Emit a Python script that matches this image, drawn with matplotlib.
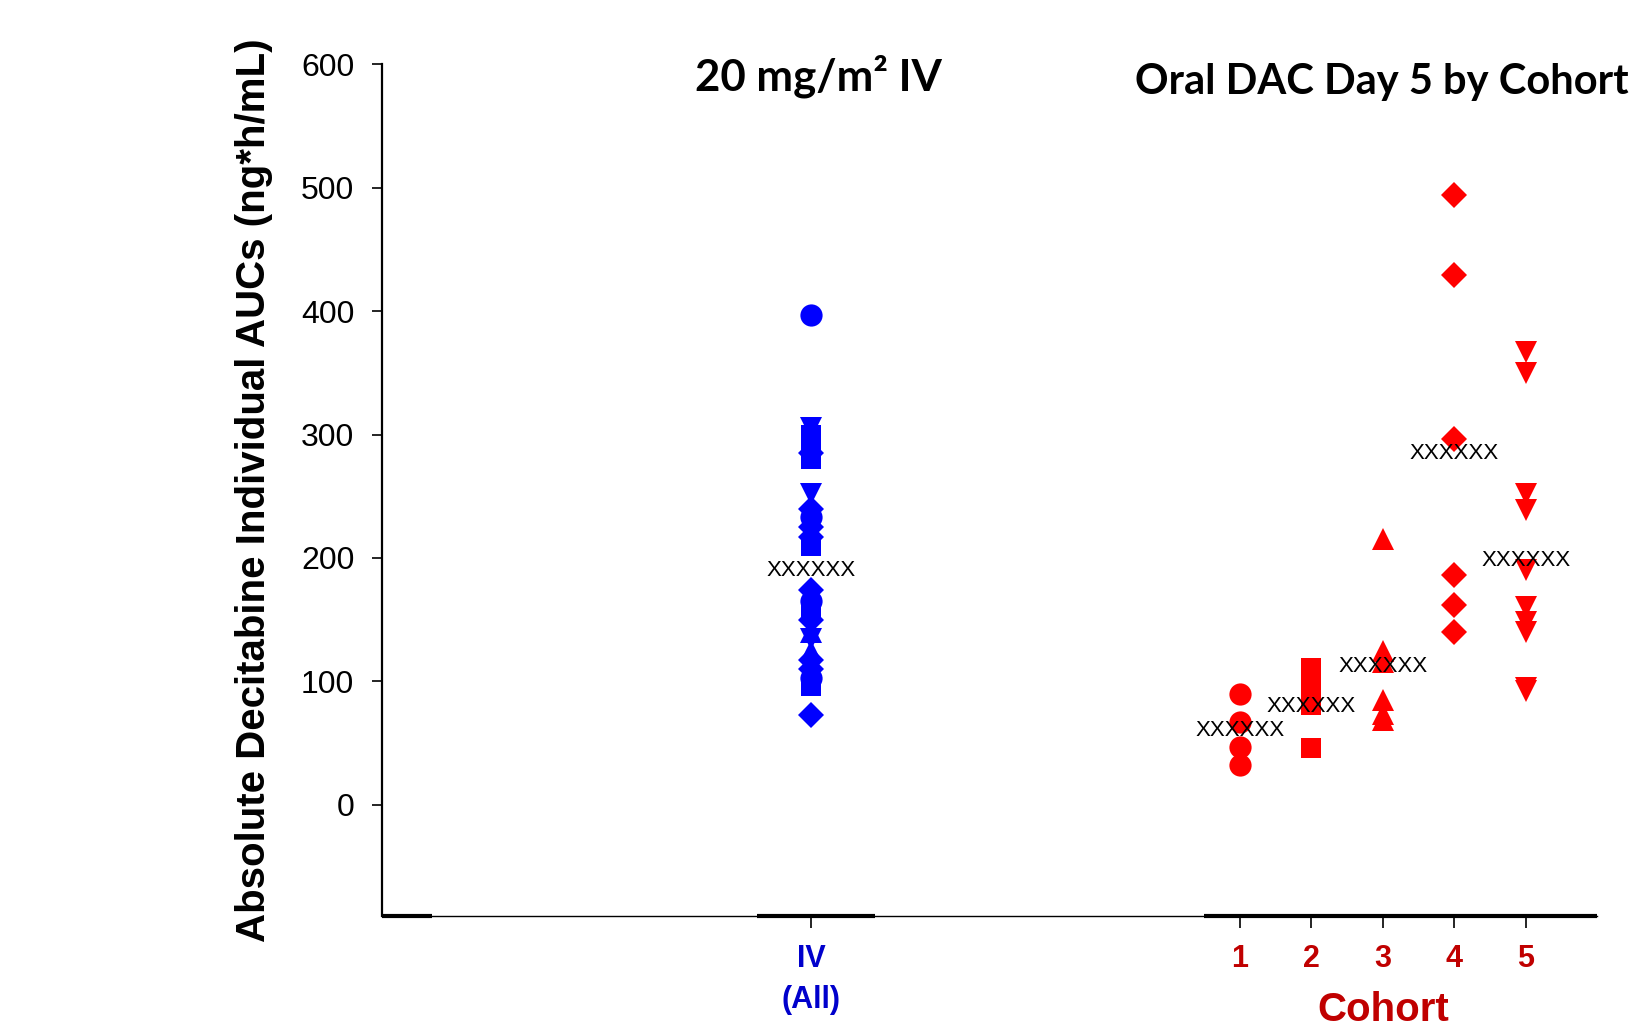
import matplotlib
matplotlib.use("Agg")
import matplotlib.pyplot as plt

plt.rcParams['font.family'] = ['Liberation Sans', 'DejaVu Sans']

# IV column (all patients), marker shape shows the cohort of each patient
iv_vals = [397, 305, 300, 292, 285, 280, 252, 240, 233, 225, 217, 210,
           174, 165, 158, 150, 140, 134, 125, 117, 110, 103, 96, 73]
iv_marks = ['o', 'v', 's', 's', 'D', 's', 'v', 'D', 'o', 'D', 'D', 's',
            'D', 'o', 's', 'D', '^', 'v', '^', 'D', 'D', 'o', 's', 'D']
iv_mean = 190

# oral DAC day 5, by cohort
cohorts = ['1', '2', '3', '4', '5']
cohort_marks = ['o', 's', '^', 'D', 'v']
cohort1 = [90, 67, 47, 32]
cohort2 = [111, 101, 91, 81, 46, 46]
cohort3 = [215, 125, 116, 85, 74, 69]
cohort4 = [494, 429, 296, 186, 162, 140]
cohort5 = [367, 350, 252, 239, 190, 160, 148, 140, 95, 92]
cohort_means = [60, 80, 112, 285, 198]

yticks = [0, 100, 200, 300, 400, 500, 600]

iv_pos = 0
cohort_pos = [6, 7, 8, 9, 10]
mark_size = {'o': 16, 's': 15, '^': 16, 'v': 16, 'D': 13}

fig = plt.figure(figsize=(16.4, 10.3), dpi=100)
ax = fig.add_axes([0.233, 0.1107, 0.741, 0.827])

# IV points
for m in sorted(set(iv_marks)):
    ys = [v for v, mk in zip(iv_vals, iv_marks) if mk == m]
    ax.plot([iv_pos] * len(ys), ys, linestyle='none', marker=m,
            markersize=mark_size[m], color='#0000FF', markeredgewidth=0)
ax.text(iv_pos, iv_mean, 'XXXXXX', ha='center', va='center', fontsize=16, zorder=5)

# oral cohorts
groups = [cohort1, cohort2, cohort3, cohort4, cohort5]
for x, vals, m, mean in zip(cohort_pos, groups, cohort_marks, cohort_means):
    ax.plot([x] * len(vals), vals, linestyle='none', marker=m,
            markersize=mark_size[m], color='#FF0000', markeredgewidth=0)
    ax.text(x, mean, 'XXXXXX', ha='center', va='center', fontsize=16, zorder=5)

ax.set_xlim(-6, 11)
ax.set_ylim(-90, 600)
ax.spines['top'].set_visible(False)
ax.spines['right'].set_visible(False)
ax.spines['left'].set_linewidth(1.6)
ax.spines['bottom'].set_linewidth(1.0)

# thicker pieces of the x axis line, as in the original
thick_spans = [(-6, -5.3), (-0.75, 0.9), (5.5, 11)]
for a, b in thick_spans:
    ax.hlines(-90, a, b, color='black', linewidth=3, clip_on=False, zorder=4)

ax.set_yticks(yticks)
ax.set_yticklabels([str(t) for t in yticks], fontsize=23)
ax.tick_params(axis='y', length=7, width=1.2, pad=13)

ax.set_xticks([iv_pos] + cohort_pos)
ax.set_xticklabels(['IV\n(All)'] + cohorts, fontsize=22, fontweight='bold',
                   linespacing=1.45)
ax.tick_params(axis='x', length=8.5, width=1.2, pad=12)
xt = ax.get_xticklabels()
xt[0].set_color('#0000CC')
for t in xt[1:]:
    t.set_color('#C00000')

ax.set_ylabel('Absolute Decitabine Individual AUCs (ng*h/mL)',
              fontsize=29, fontweight='bold', labelpad=20)
ax.set_xlabel('Cohort', fontsize=29, fontweight='bold', color='#C00000')
ax.xaxis.set_label_coords((8 + 6) / 17, -0.088)

fig.text(0.424, 0.926, '20 mg/m\u00b2 IV', fontsize=31.5, fontweight='bold',
         family='Lato', ha='left', va='center')
fig.text(0.692, 0.920, 'Oral DAC Day 5 by Cohort', fontsize=30,
         fontweight='bold', family='Lato', ha='left', va='center')

fig.savefig('out.png', dpi=100)
